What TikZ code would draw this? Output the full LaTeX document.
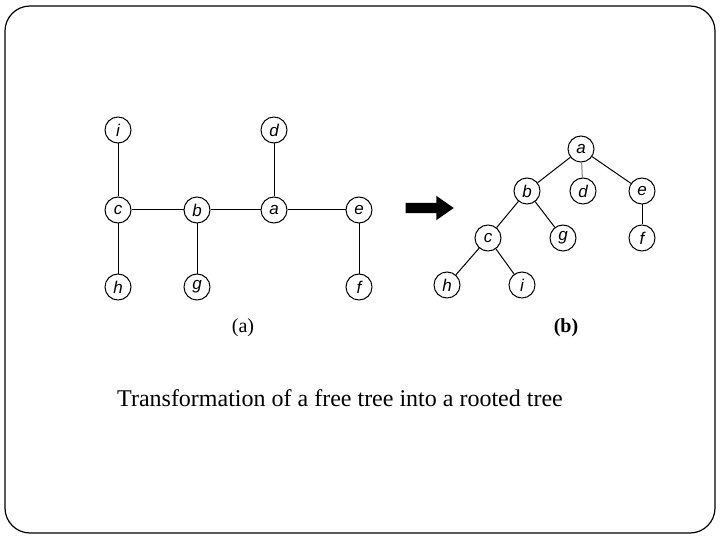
\documentclass[tikz,border=0pt]{standalone}
\usepackage{fontspec}
\setmainfont{Liberation Serif}
\newfontfamily\vtxfont{Liberation Sans}
\usetikzlibrary{shapes.arrows}

\begin{document}
\begin{tikzpicture}[
    x = 1pt, y = -1pt,
    vtx/.style      = {draw, circle, line width = 1pt, minimum size = 26pt, inner sep = 0pt, font = \vtxfont\itshape\fontsize{17}{17}\selectfont},
    edge/.style     = {line width = 1pt},
    bigarrow/.style = {single arrow, fill = black, inner xsep = 0pt, inner ysep = 5pt, minimum width = 24pt, minimum height = 48pt, single arrow head extend = 7pt, single arrow tip angle = 70},
    sublabel/.style = {font = \fontsize{20}{20}\selectfont},
]

% ---------- frame ----------
\useasboundingbox (0,0) rectangle (720,540);
\draw[line width = 1.2pt, rounded corners = 25pt] (5,6) rectangle (715,533);

% ---------- (a) free tree ----------
\node[vtx] (ai) at (118,130) {i};
\node[vtx] (ac) at (118,210) {c};
\node[vtx] (ah) at (118,287) {h};
\node[vtx] (ab) at (197,210) {b};
\node[vtx] (ag) at (197,287) {g};
\node[vtx] (aa) at (274,210) {a};
\node[vtx] (ad) at (274,130) {d};
\node[vtx] (ae) at (359,210) {e};
\node[vtx] (af) at (359,287) {f};

\draw[edge] (ai) -- (ac);
\draw[edge] (ac) -- (ah);
\draw[edge] (ac) -- (ab);
\draw[edge] (ab) -- (ag);
\draw[edge] (ab) -- (aa);
\draw[edge] (aa) -- (ad);
\draw[edge] (aa) -- (ae);
\draw[edge] (ae) -- (af);

\node[sublabel] (la) at (243,328) {(a)};

% ---------- transformation arrow ----------
\node[bigarrow] (arr) at (426,208) {};

% ---------- (b) rooted tree ----------
\node[vtx] (ra) at (581,149) {a};
\node[vtx] (rb) at (527,191) {b};
\node[vtx] (rd) at (583,191) {d};
\node[vtx] (re) at (642,191) {e};
\node[vtx] (rc) at (488,238) {c};
\node[vtx] (rg) at (563,238) {g};
\node[vtx] (rf) at (642,238) {f};
\node[vtx] (rh) at (447,285) {h};
\node[vtx] (ri) at (522,285) {i};

\draw[edge] (ra) -- (rb);
\draw[edge, gray] (ra) -- (rd);
\draw[edge] (ra) -- (re);
\draw[edge] (rb) -- (rc);
\draw[edge] (rb) -- (rg);
\draw[edge] (re) -- (rf);
\draw[edge] (rc) -- (rh);
\draw[edge] (rc) -- (ri);

\node[sublabel, font = \bfseries\fontsize{20}{20}\selectfont] (lb) at (566,328) {(b)};

% ---------- caption ----------
\node[font = \fontsize{24}{24}\selectfont] (cap) at (340,398) {Transformation of a free tree into a rooted tree};

\end{tikzpicture}
\end{document}
